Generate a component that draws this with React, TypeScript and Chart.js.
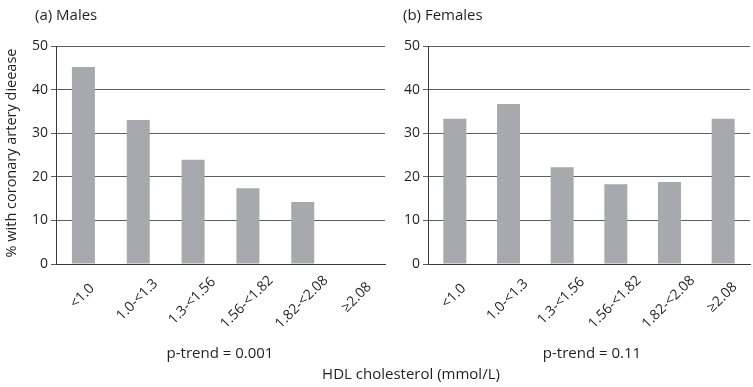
import React, { useEffect, useRef } from "react";
import { Chart, registerables } from "chart.js";

Chart.register(...registerables);

// HDL cholesterol bands (mmol/L)
const hdlBands = ["<1.0", "1.0-<1.3", "1.3-<1.56", "1.56-<1.82", "1.82-<2.08", "≥2.08"];
// % with coronary artery disease per band
const malesPct: (number | null)[] = [45.2, 33.0, 23.9, 17.4, 14.2, null];
const femalesPct: (number | null)[] = [33.3, 36.7, 22.2, 18.3, 18.8, 33.3];
const yTicks = [0, 10, 20, 30, 40, 50];
const panelTitles = ["(a) Males", "(b) Females"];
const trendLabels = ["p-trend = 0.001", "p-trend = 0.11"];
const xAxisTitle = "HDL cholesterol (mmol/L)";
const yAxisTitle = "% with coronary artery dieease";

const W = 753;
const H = 387;
const FONT = '"Open Sans", "DejaVu Sans", sans-serif';
const TEXT = "#231f20";
const BAR = "#a7a9ac";
const GRID = "#5d5e60";
const AXIS = "#3a3a3c";
const PLOT_TOP = 46;
const PLOT_BOTTOM = 264;

type Panel = {
  values: (number | null)[];
  title: string;
  titleX: number;
  trend: string;
  trendX: number;
  left: number;
  right: number;
  axisWidth: number;
  shared: boolean;
};

function panelText(panel: Panel) {
  return {
    id: "panelText",
    afterDraw(chart: Chart) {
      const ctx = chart.ctx;
      const xs = chart.scales.x;
      ctx.save();
      ctx.fillStyle = TEXT;

      // panel heading
      ctx.font = `15px ${FONT}`;
      ctx.textAlign = "left";
      ctx.textBaseline = "middle";
      ctx.fillText(panel.title, panel.titleX, 16);

      // rotated category labels, centred under each bar
      ctx.font = `14px ${FONT}`;
      hdlBands.forEach((label, i) => {
        const x = xs.getPixelForTick(i);
        const w = ctx.measureText(label).width;
        ctx.save();
        ctx.translate(x - 1, 292 + 0.15 * w);
        ctx.rotate(-Math.PI / 4);
        ctx.textAlign = "center";
        ctx.textBaseline = "middle";
        ctx.fillText(label, 0, 0);
        ctx.restore();
      });

      // trend test result
      ctx.font = `15px ${FONT}`;
      ctx.textAlign = "center";
      ctx.textBaseline = "middle";
      ctx.fillText(panel.trend, panel.trendX, 354);

      if (panel.shared) {
        ctx.fillText(xAxisTitle, 411, 375);
        ctx.save();
        ctx.font = `14.5px ${FONT}`;
        ctx.translate(12, 153);
        ctx.rotate(-Math.PI / 2);
        ctx.fillText(yAxisTitle, 0, 0);
        ctx.restore();
      }
      ctx.restore();
    },
  };
}

function buildChart(canvas: HTMLCanvasElement, panel: Panel) {
  return new Chart(canvas, {
    type: "bar",
    data: {
      labels: hdlBands,
      datasets: [
        {
          data: panel.values,
          backgroundColor: BAR,
          borderWidth: 0,
          categoryPercentage: 1,
          barPercentage: 23 / ((panel.right - panel.left) / hdlBands.length),
        },
      ],
    },
    options: {
      responsive: false,
      animation: false,
      devicePixelRatio: 1,
      layout: {
        padding: {
          left: panel.left - panel.axisWidth,
          right: W - panel.right,
          top: PLOT_TOP,
          bottom: 0,
        },
      },
      plugins: {
        legend: { display: false },
        tooltip: { enabled: false },
        title: { display: false },
      },
      scales: {
        x: {
          type: "category",
          grid: { display: false, drawTicks: false },
          border: { display: true, color: AXIS, width: 1 },
          ticks: { display: false },
          afterFit: (s: any) => {
            s.height = H - PLOT_BOTTOM;
          },
        },
        y: {
          min: 0,
          max: 50,
          afterBuildTicks: (s: any) => {
            s.ticks = yTicks.map((v) => ({ value: v }));
          },
          grid: { color: GRID, lineWidth: 1, tickLength: 5, drawTicks: true },
          border: { display: true, color: AXIS, width: 1 },
          ticks: { font: { family: FONT, size: 14 }, color: TEXT, padding: 3 },
          afterFit: (s: any) => {
            s.width = panel.axisWidth;
          },
        },
      },
    },
    plugins: [panelText(panel)],
  });
}

export default function App() {
  const leftRef = useRef<HTMLCanvasElement>(null);
  const rightRef = useRef<HTMLCanvasElement>(null);

  useEffect(() => {
    const charts: Chart[] = [];
    if (leftRef.current) {
      charts.push(
        buildChart(leftRef.current, {
          values: malesPct,
          title: panelTitles[0],
          titleX: 35,
          trend: trendLabels[0],
          trendX: 220,
          left: 56,
          right: 385,
          axisWidth: 56,
          shared: true,
        })
      );
    }
    if (rightRef.current) {
      charts.push(
        buildChart(rightRef.current, {
          values: femalesPct,
          title: panelTitles[1],
          titleX: 403,
          trend: trendLabels[1],
          trendX: 592,
          left: 428,
          right: 750,
          axisWidth: 40,
          shared: false,
        })
      );
    }
    return () => charts.forEach((c) => c.destroy());
  }, []);

  const canvasStyle: React.CSSProperties = {
    position: "absolute",
    left: 0,
    top: 0,
    width: W,
    height: H,
  };

  return (
    <div style={{ position: "absolute", left: 0, top: 0, width: W, height: H, background: "#fff" }}>
      <canvas ref={leftRef} width={W} height={H} style={canvasStyle} />
      <canvas ref={rightRef} width={W} height={H} style={canvasStyle} />
    </div>
  );
}
